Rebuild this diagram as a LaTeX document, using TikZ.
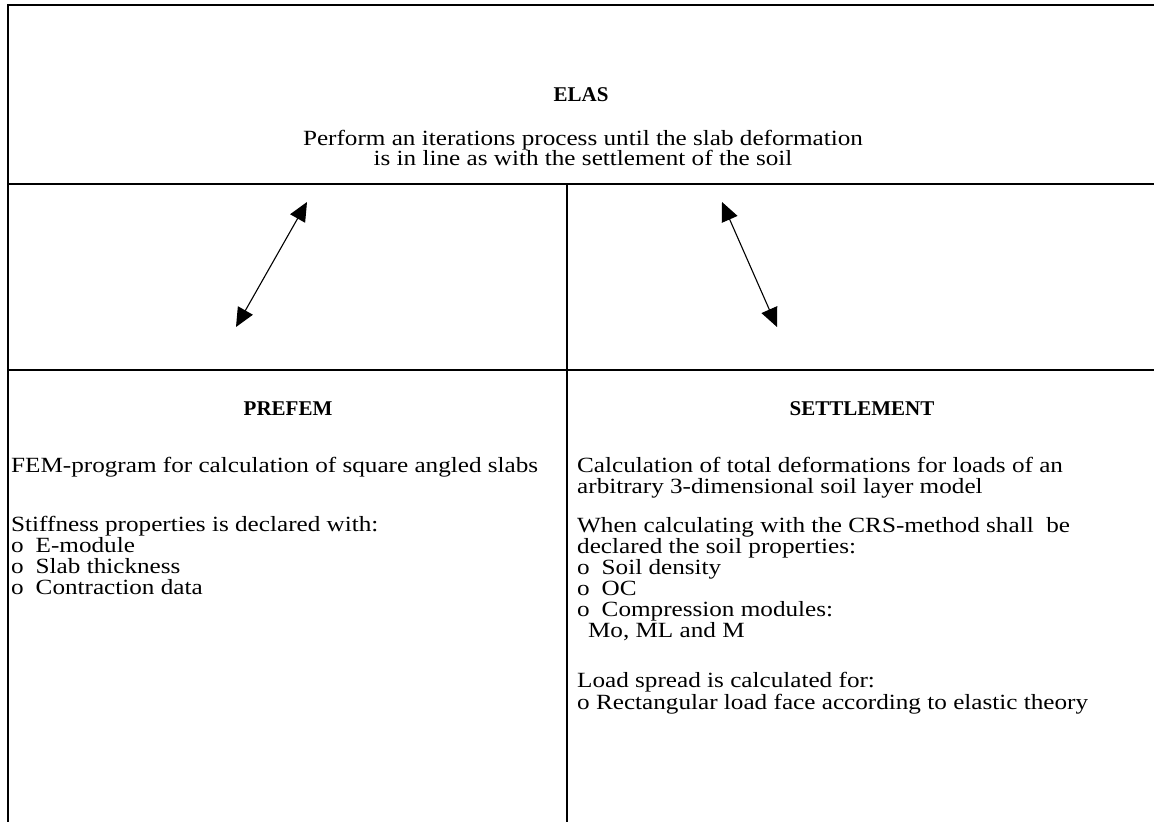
\documentclass[tikz,border=0pt]{standalone}
\usepackage{fontspec}
\setmainfont{Liberation Serif}[FakeStretch=1.16]
\newfontfamily\headfont{Liberation Serif}
\usetikzlibrary{arrows.meta}
\tikzset{
  thinrule/.style={line width=1.1bp, line cap=rect},
  thickrule/.style={line width=1.8bp, line cap=rect},
  txt/.style={anchor=base west, inner sep=0pt, font=\fontsize{21.7bp}{21.7bp}\selectfont},
  ctxt/.style={anchor=base, inner sep=0pt, font=\fontsize{21.7bp}{21.7bp}\selectfont},
  ttl/.style={anchor=base, inner sep=0pt, font=\headfont\fontsize{21bp}{21bp}\selectfont\bfseries},
  dbl/.style={line width=1.1bp, {Triangle[length=19bp,width=17bp]}-{Triangle[length=19bp,width=17bp]}}
}
\begin{document}
\begin{tikzpicture}[x=1bp,y=-1bp]
\useasboundingbox (0,0) rectangle (1154,822);
% frame
\coordinate (tl) at (8,5);
\coordinate (tr) at (1154,5);
\coordinate (bl) at (8,822);
\coordinate (al) at (8,184);
\coordinate (ar) at (1154,184);
\coordinate (bl2) at (8,370);
\coordinate (br2) at (1154,370);
\coordinate (dtop) at (567,184);
\coordinate (dbot) at (567,822);
\draw[thinrule] (tl) -- (tr);
\draw[thinrule] (al) -- (ar);
\draw[thickrule] (bl2) -- (br2);
\draw[thickrule] (dtop) -- (dbot);
\draw[line width=2.2bp] (tl) -- (bl);
% top cell
\node[ttl] (elas) at (581,102) {ELAS};
\node[ctxt] (p1) at (583,145) {Perform an iterations process until the slab deformation};
\node[ctxt] (p2) at (583,165) {is in line as with the settlement of the soil};
% arrows
\coordinate (a1s) at (236,327);
\coordinate (a1e) at (307,202);
\coordinate (a2s) at (722,202);
\coordinate (a2e) at (777,327);
\draw[dbl] (a1s) -- (a1e);
\draw[dbl] (a2s) -- (a2e);
% PREFEM
\node[ttl] (pref) at (288,415) {PREFEM};
\node[txt] (l1) at (11,472) {FEM-program for calculation of square angled slabs};
\node[txt] (l2) at (11,531) {Stiffness properties is declared with:};
\node[txt] (l3) at (11,552) {o\hspace{0.55em}E-module};
\node[txt] (l4) at (11,573) {o\hspace{0.55em}Slab thickness};
\node[txt] (l5) at (11,594) {o\hspace{0.55em}Contraction data};
% SETTLEMENT
\node[ttl] (sett) at (862,415) {SETTLEMENT};
\node[txt] (r1) at (577,472) {Calculation of total deformations for loads of an};
\node[txt] (r2) at (577,493) {arbitrary 3-dimensional soil layer model};
\node[txt] (r3) at (577,532) {When calculating with the CRS-method shall\ \ be};
\node[txt] (r4) at (577,553) {declared the soil properties:};
\node[txt] (r5) at (577,574) {o\hspace{0.55em}Soil density};
\node[txt] (r6) at (577,595) {o\hspace{0.55em}OC};
\node[txt] (r7) at (577,616) {o\hspace{0.55em}Compression modules:};
\node[txt] (r8) at (577,637) {\hspace{0.5em}Mo, ML and M};
\node[txt] (r9) at (577,687) {Load spread is calculated for:};
\node[txt] (r10) at (577,709) {o Rectangular load face according to elastic theory};
\end{tikzpicture}
\end{document}
